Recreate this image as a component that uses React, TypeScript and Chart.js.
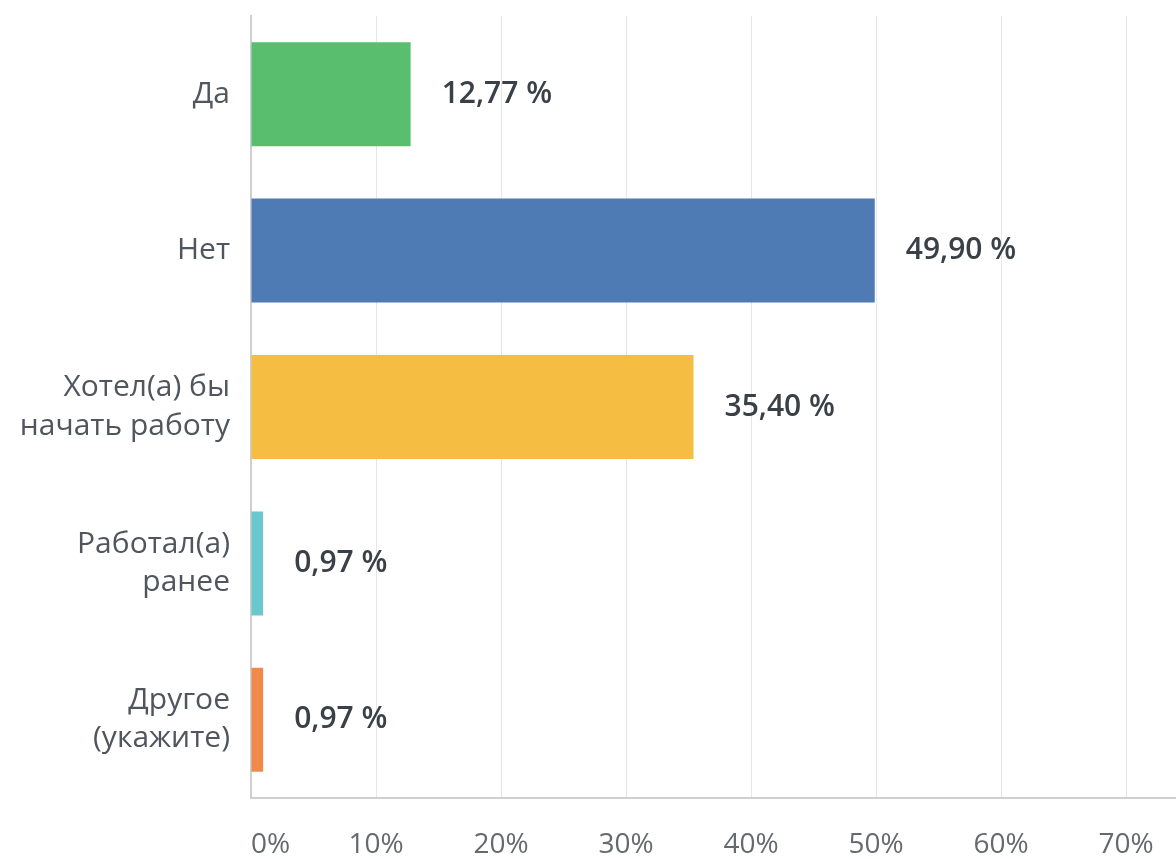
import React, { useEffect, useRef } from "react";
import { Chart, registerables } from "chart.js";

Chart.register(...registerables);

const categories: (string | string[])[] = [
  "Да",
  "Нет",
  ["Хотел(а) бы", "начать работу"],
  ["Работал(а)", "ранее"],
  ["Другое", "(укажите)"],
];
const values: number[] = [12.77, 49.9, 35.4, 0.97, 0.97];
const valueLabels: string[] = ["12,77 %", "49,90 %", "35,40 %", "0,97 %", "0,97 %"];
const barColors: string[] = ["#59BF6E", "#4E7BB4", "#F5BD42", "#6AC7CC", "#F08A4B"];
const xTicks: number[] = [0, 10, 20, 30, 40, 50, 60, 70];
const xMax = 74;

const FONT = "'Open Sans', 'Noto Sans', sans-serif";

const valueLabelPlugin = {
  id: "valueLabels",
  afterDatasetsDraw(chart: any) {
    const ctx = chart.ctx;
    const meta = chart.getDatasetMeta(0);
    ctx.save();
    ctx.font = `600 30px ${FONT}`;
    ctx.fillStyle = "#3A4047";
    ctx.textAlign = "left";
    ctx.textBaseline = "middle";
    meta.data.forEach((bar: any, i: number) => {
      ctx.fillText(valueLabels[i], bar.x + 31, bar.y);
    });
    ctx.restore();
  },
};

export default function App() {
  const canvasRef = useRef<HTMLCanvasElement | null>(null);

  useEffect(() => {
    if (!canvasRef.current) return;
    const chart = new Chart(canvasRef.current, {
      type: "bar",
      data: {
        labels: categories,
        datasets: [
          {
            data: values,
            backgroundColor: barColors,
            borderWidth: 0,
            categoryPercentage: 1,
            barPercentage: 0.665,
          },
        ],
      },
      options: {
        indexAxis: "y",
        animation: false,
        responsive: true,
        maintainAspectRatio: false,
        layout: { padding: { top: 16, left: 0, right: 0, bottom: 0 } },
        plugins: {
          legend: { display: false },
          tooltip: { enabled: false },
        },
        scales: {
          x: {
            type: "linear",
            min: 0,
            max: xMax,
            afterBuildTicks: (scale: any) => {
              scale.ticks = [...xTicks, xMax].map((v) => ({ value: v }));
            },
            afterFit: (scale: any) => {
              scale.height = 61;
              scale.paddingLeft = 0;
              scale.paddingRight = 0;
              scale.paddingTop = 0;
              scale.paddingBottom = 0;
            },
            grid: {
              color: (c: any) => (c.tick && c.tick.value === xMax ? "rgba(0,0,0,0)" : "#E6E6E6"),
              lineWidth: 1,
              drawTicks: false,
            },
            border: { display: true, color: "#CFCFCF", width: 2 },
            ticks: {
              autoSkip: false,
              maxRotation: 0,
              align: "inner",
              padding: 30,
              color: "#666A6E",
              font: { family: FONT, size: 28 },
              callback: (v: any) => (v === xMax ? "" : `${v}%`),
            },
          },
          y: {
            afterFit: (scale: any) => {
              scale.width = 251;
              scale.paddingLeft = 0;
              scale.paddingRight = 0;
              scale.paddingTop = 0;
              scale.paddingBottom = 0;
            },
            grid: { display: false, drawTicks: false },
            border: { display: true, color: "#CFCFCF", width: 2 },
            ticks: {
              padding: 21,
              color: "#50565D",
              font: { family: FONT, size: 30, lineHeight: 1.27 },
            },
          },
        },
      },
      plugins: [valueLabelPlugin],
    });
    return () => chart.destroy();
  }, []);

  return (
    <div style={{ position: "absolute", left: 0, top: 0, width: 1176, height: 859, background: "#fff" }}>
      <canvas ref={canvasRef} />
    </div>
  );
}
